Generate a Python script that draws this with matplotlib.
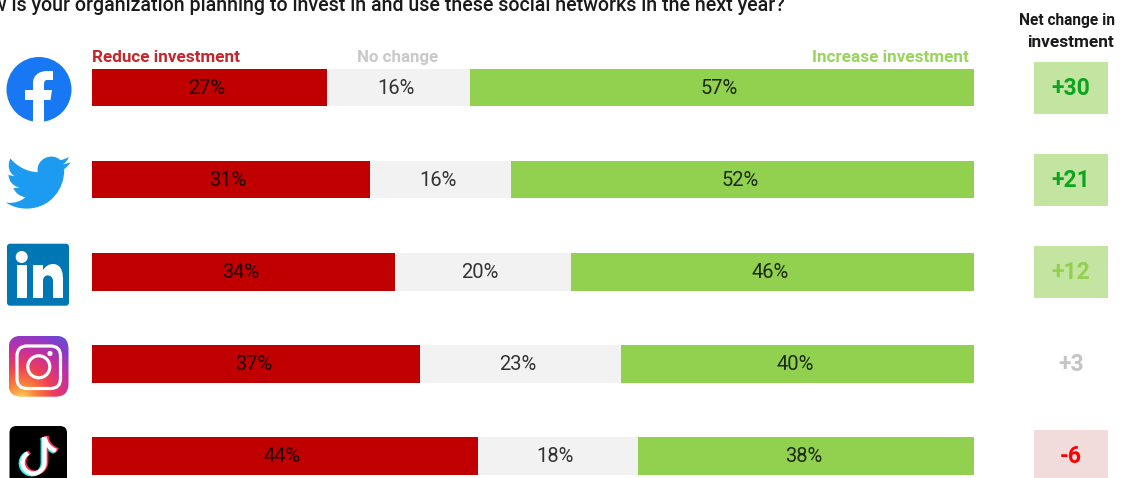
import numpy as np
import matplotlib
matplotlib.use("Agg")
import matplotlib.pyplot as plt
from matplotlib.patches import Circle, FancyBboxPatch, PathPatch, Rectangle
from matplotlib.path import Path
from matplotlib.transforms import Affine2D
from matplotlib.colors import LinearSegmentedColormap

plt.rcParams['font.family'] = ['Roboto', 'DejaVu Sans']

platforms = ["Facebook", "Twitter", "LinkedIn", "Instagram", "TikTok"]
reduce_w = [26.6, 31.5, 34.3, 37.2, 43.8]
nochange_w = [16.3, 16.0, 20.0, 22.8, 18.1]
increase_w = [57.1, 52.5, 45.7, 40.0, 38.1]
reduce_lbl = ["27%", "31%", "34%", "37%", "44%"]
nochange_lbl = ["16%", "16%", "20%", "23%", "18%"]
increase_lbl = ["57%", "52%", "46%", "40%", "38%"]
net_lbl = ["+30", "+21", "+12", "+3", "-6"]
net_text_col = ["#0CA51E", "#0CA51E", "#92D050", "#C4C4C4", "#FF0000"]
net_box_col = ["#C4E5A2", "#C4E5A2", "#C4E5A2", None, "#F2DCDB"]
title = "How is your organization planning to invest in and use these social networks in the next year?"

W, H = 1131, 478
fig = plt.figure(figsize=(W / 100, H / 100), dpi=100, facecolor="white")
y_lim = ((H - 87.6) / 92.1, -87.6 / 92.1)

# pixel overlay for headers and logos
ov = fig.add_axes([0, 0, 1, 1])
ov.set_xlim(0, W); ov.set_ylim(H, 0); ov.axis("off")

# stacked bars
ax = fig.add_axes([92 / W, 0, 882 / W, 1])
ax.set_xlim(0, 100); ax.set_ylim(*y_lim); ax.axis("off"); ax.patch.set_alpha(0)
ypos = np.arange(len(platforms))
left = np.zeros(len(platforms))
BAR_H = 37.5 / 92.1
for w, lbls, col, tcol in [(reduce_w, reduce_lbl, "#C00000", "#200000"),
                           (nochange_w, nochange_lbl, "#F2F2F2", "#333333"),
                           (increase_w, increase_lbl, "#92D050", "#1C2A0C")]:
    ax.barh(ypos, w, left=left, height=BAR_H, color=col, linewidth=0)
    for y, x0, wi, s in zip(ypos, left, w, lbls):
        ax.text(x0 + wi / 2 - 0.3, y + 0.008, s, ha="center", va="center", fontsize=14.5, color=tcol)
    left = left + np.array(w)

# net change column
ax2 = fig.add_axes([1034 / W, 0, 74 / W, 1])
ax2.set_xlim(0, 1); ax2.set_ylim(*y_lim); ax2.axis("off"); ax2.patch.set_alpha(0)
for y, s, tc, bc in zip(ypos, net_lbl, net_text_col, net_box_col):
    if bc:
        ax2.barh(y, 1, left=0, height=52 / 92.1, color=bc, linewidth=0)
    ax2.text(0.5, y + 0.005, s, ha="center", va="center", fontsize=16.5, color=tc, fontweight="bold")

# texts
ov.text(-33, 5, title, ha="left", va="center", fontsize=14.1, fontweight="medium", color="#1a1a1a")
ov.text(92, 57, "Reduce investment", ha="left", va="center", fontsize=12.3, fontweight="bold", color="#C8242B")
ov.text(357, 57, "No change", ha="left", va="center", fontsize=12.2, fontweight="bold", color="#C9C9C9")
ov.text(969, 57, "Increase investment", ha="right", va="center", fontsize=12.3, fontweight="bold", color="#9AD45C")
ov.text(1067, 20, "Net change in", ha="center", va="center", fontsize=11.2, fontweight="bold", color="#1a1a1a")
ov.text(1071, 42, "investment", ha="center", va="center", fontsize=12.4, fontweight="bold", color="#1a1a1a")

# ---- logos ----
def rrect(x0, y0, x1, y1, r, **kw):
    return FancyBboxPatch((x0 + r, y0 + r), x1 - x0 - 2 * r, y1 - y0 - 2 * r,
                          boxstyle=f"round,pad={r},rounding_size={r}", **kw)

M, L, C3, C4, Z = Path.MOVETO, Path.LINETO, Path.CURVE3, Path.CURVE4, Path.CLOSEPOLY

# Facebook
ov.add_patch(Circle((39, 89.5), 32.5, color="#1877F2", lw=0))
fv = [(33, 122), (33, 100), (25, 100), (25, 90), (33, 90), (33, 83), (33, 74), (41, 71), (47, 71),
      (53, 71), (53, 80), (47, 80), (44, 80), (44, 84), (44, 90), (52, 90), (50.5, 100), (44, 100), (44, 122), (33, 122)]
fc = [M, L, L, L, L, L, C4, C4, C4, L, L, L, C3, C3, L, L, L, L, L, Z]
ov.add_patch(PathPatch(Path(fv, fc), color="white", lw=0))

# Twitter
tw = [((23.953, 4.57), M), ((22.6, 5.15), C3), ((21.128, 5.345), C3), ((22.75, 4.4), C3), ((23.291, 2.622), C3),
      ((21.8, 3.5), C3), ((20.164, 3.806), C3), ((16.8, 0.6), C4), ((10.8, 3.6), C4), ((11.78, 8.288), C4),
      ((7.69, 8.095), C4), ((4.067, 6.13), C4), ((1.64, 3.162), C4), ((0.6, 5.2), C4), ((0.7, 8.2), C4),
      ((3.162, 9.733), C4), ((2.0, 9.75), C3), ((0.934, 9.117), C3), ((1.0, 12.8), C3), ((4.88, 14.004), C3),
      ((3.8, 14.3), C3), ((2.668, 14.089), C3), ((4.2, 17.3), C3), ((7.272, 17.506), C3), ((4.6, 19.8), C3),
      ((1.17, 19.611), C3), ((0.6, 19.6), C3), ((0.0, 19.544), C3), ((3.3, 21.75), C3), ((7.557, 21.753), C3),
      ((16.61, 21.753), C4), ((21.555, 14.257), C4), ((21.555, 7.768), C4), ((21.555, 7.558), C3), ((21.54, 7.138), C3),
      ((23.0, 6.1), C3), ((23.953, 4.57), C3), ((23.953, 4.57), Z)]
tv = [(6 + 2.7 * x, 155 + 2.7 * (y - 1.9)) for (x, y), _ in tw]
ov.add_patch(PathPatch(Path(tv, [c for _, c in tw]), color="#1D9BF0", lw=0))

# LinkedIn
ov.add_patch(rrect(7, 243.7, 69, 305.7, 3, color="#0077B5", lw=0))
ov.add_patch(Circle((21.7, 257), 6, color="white", lw=0))
ov.add_patch(Rectangle((16.5, 265), 10.5, 33, color="white", lw=0))
nv = [(33, 298), (33, 265), (43, 265), (43, 270), (47, 264), (53, 264), (63, 264), (63, 276), (63, 280),
      (63, 298), (53, 298), (53, 281), (53, 274), (43, 273), (43, 281), (43, 298), (33, 298)]
nc = [M, L, L, L, C3, C3, C4, C4, C4, L, L, L, C4, C4, C4, L, Z]
ov.add_patch(PathPatch(Path(nv, nc), color="white", lw=0))

# Instagram
yy, xx = np.mgrid[0:1:120j, 0:1:120j]
t = np.clip(np.hypot(xx - 0.2, yy - 1.05) / 1.35, 0, 1)
cm = LinearSegmentedColormap.from_list("ig", ["#FEDA5A", "#F9803A", "#EE3F55", "#C9309A", "#8A3AC8", "#4F5BD5"])
im = ov.imshow(t, cmap=cm, extent=(8.5, 68.5, 396.7, 335.7), origin="upper", aspect="auto", vmin=0, vmax=1)
clip = rrect(8.5, 335.7, 68.5, 396.7, 13, transform=ov.transData, fc="none", lw=0)
ov.add_patch(clip)
im.set_clip_path(clip)
ov.set_xlim(0, W); ov.set_ylim(H, 0)
ov.add_patch(rrect(17, 346, 60.5, 388.5, 10, fc="none", ec="white", lw=2.3))
ov.add_patch(Circle((38.8, 366.8), 11, fc="none", ec="white", lw=2.3))
ov.add_patch(Circle((50, 353.5), 2.6, color="white", lw=0))

# TikTok
ov.add_patch(rrect(9.5, 426, 67, 500, 7, color="black", lw=0))
ang = np.radians(np.arange(0, 241, 15))
ring = np.column_stack([33.5 + 11 * np.cos(ang), 462.5 + 11 * np.sin(ang)])
note_v = [(44.5, 437)] + [tuple(p) for p in ring] + [(44.5, 437), (46, 447), (56, 451)]
note_c = [M] + [L] * len(ring) + [M, C3, C3]
note = Path(note_v, note_c)
for dx, dy, col in [(-1.7, 0.8, "#25F4EE"), (1.7, -0.8, "#FE2C55"), (0, 0, "white")]:
    ov.add_patch(PathPatch(note.transformed(Affine2D().translate(dx, dy)),
                           fc="none", ec=col, lw=3.2, capstyle="butt"))

fig.savefig("out.png", dpi=100)
